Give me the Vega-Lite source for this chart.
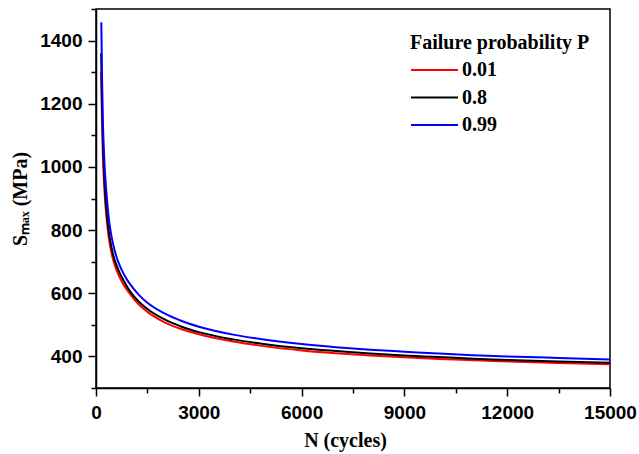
{
  "$schema": "https://vega.github.io/schema/vega-lite/v6.json",
  "width": 514,
  "height": 379,
  "autosize": {"type": "none"},
  "padding": {"left": 96, "top": 9, "right": 29, "bottom": 66},
  "background": "white",
  "config": {
    "view": {"stroke": "black", "strokeWidth": 1.5},
    "axis": {
      "grid": false,
      "domainColor": "black",
      "domainWidth": 1.5,
      "tickColor": "black",
      "tickWidth": 1.5,
      "labelFont": "Liberation Sans",
      "labelFontWeight": "bold",
      "labelFontSize": 19,
      "labelColor": "black",
      "titleFont": "Liberation Serif",
      "titleFontWeight": "bold",
      "titleFontSize": 20,
      "titleColor": "black"
    }
  },
  "data": {
    "values": [
      {"N": 150, "S": 1300, "P": "0.01"},
      {"N": 175, "S": 1150, "P": "0.01"},
      {"N": 200, "S": 1040, "P": "0.01"},
      {"N": 225, "S": 970, "P": "0.01"},
      {"N": 250, "S": 918, "P": "0.01"},
      {"N": 300, "S": 847, "P": "0.01"},
      {"N": 350, "S": 796, "P": "0.01"},
      {"N": 400, "S": 757, "P": "0.01"},
      {"N": 500, "S": 706, "P": "0.01"},
      {"N": 600, "S": 673, "P": "0.01"},
      {"N": 700, "S": 648, "P": "0.01"},
      {"N": 800, "S": 628, "P": "0.01"},
      {"N": 900, "S": 611, "P": "0.01"},
      {"N": 1000, "S": 596, "P": "0.01"},
      {"N": 1250, "S": 564, "P": "0.01"},
      {"N": 1500, "S": 541, "P": "0.01"},
      {"N": 2000, "S": 508, "P": "0.01"},
      {"N": 2500, "S": 486, "P": "0.01"},
      {"N": 3000, "S": 470, "P": "0.01"},
      {"N": 4000, "S": 447, "P": "0.01"},
      {"N": 5000, "S": 431, "P": "0.01"},
      {"N": 6000, "S": 419, "P": "0.01"},
      {"N": 7000, "S": 410, "P": "0.01"},
      {"N": 8000, "S": 403, "P": "0.01"},
      {"N": 9000, "S": 397, "P": "0.01"},
      {"N": 10000, "S": 392, "P": "0.01"},
      {"N": 11000, "S": 388, "P": "0.01"},
      {"N": 12000, "S": 384, "P": "0.01"},
      {"N": 13500, "S": 379, "P": "0.01"},
      {"N": 15000, "S": 375, "P": "0.01"},
      {"N": 150, "S": 1360, "P": "0.8"},
      {"N": 175, "S": 1200, "P": "0.8"},
      {"N": 200, "S": 1085, "P": "0.8"},
      {"N": 225, "S": 1005, "P": "0.8"},
      {"N": 250, "S": 948, "P": "0.8"},
      {"N": 300, "S": 870, "P": "0.8"},
      {"N": 350, "S": 816, "P": "0.8"},
      {"N": 400, "S": 776, "P": "0.8"},
      {"N": 500, "S": 722, "P": "0.8"},
      {"N": 600, "S": 688, "P": "0.8"},
      {"N": 700, "S": 662, "P": "0.8"},
      {"N": 800, "S": 641, "P": "0.8"},
      {"N": 900, "S": 622, "P": "0.8"},
      {"N": 1000, "S": 605, "P": "0.8"},
      {"N": 1250, "S": 573, "P": "0.8"},
      {"N": 1500, "S": 550, "P": "0.8"},
      {"N": 2000, "S": 517, "P": "0.8"},
      {"N": 2500, "S": 494, "P": "0.8"},
      {"N": 3000, "S": 477, "P": "0.8"},
      {"N": 4000, "S": 454, "P": "0.8"},
      {"N": 5000, "S": 438, "P": "0.8"},
      {"N": 6000, "S": 426, "P": "0.8"},
      {"N": 7000, "S": 417, "P": "0.8"},
      {"N": 8000, "S": 409, "P": "0.8"},
      {"N": 9000, "S": 403, "P": "0.8"},
      {"N": 10000, "S": 398, "P": "0.8"},
      {"N": 11000, "S": 393, "P": "0.8"},
      {"N": 12000, "S": 389, "P": "0.8"},
      {"N": 13500, "S": 384, "P": "0.8"},
      {"N": 15000, "S": 380, "P": "0.8"},
      {"N": 155, "S": 1458, "P": "0.99"},
      {"N": 175, "S": 1290, "P": "0.99"},
      {"N": 200, "S": 1150, "P": "0.99"},
      {"N": 225, "S": 1065, "P": "0.99"},
      {"N": 250, "S": 1005, "P": "0.99"},
      {"N": 300, "S": 925, "P": "0.99"},
      {"N": 350, "S": 862, "P": "0.99"},
      {"N": 400, "S": 815, "P": "0.99"},
      {"N": 500, "S": 755, "P": "0.99"},
      {"N": 600, "S": 715, "P": "0.99"},
      {"N": 700, "S": 686, "P": "0.99"},
      {"N": 800, "S": 663, "P": "0.99"},
      {"N": 900, "S": 644, "P": "0.99"},
      {"N": 1000, "S": 628, "P": "0.99"},
      {"N": 1250, "S": 595, "P": "0.99"},
      {"N": 1500, "S": 570, "P": "0.99"},
      {"N": 2000, "S": 536, "P": "0.99"},
      {"N": 2500, "S": 512, "P": "0.99"},
      {"N": 3000, "S": 494, "P": "0.99"},
      {"N": 4000, "S": 469, "P": "0.99"},
      {"N": 5000, "S": 452, "P": "0.99"},
      {"N": 6000, "S": 439, "P": "0.99"},
      {"N": 7000, "S": 429, "P": "0.99"},
      {"N": 8000, "S": 421, "P": "0.99"},
      {"N": 9000, "S": 415, "P": "0.99"},
      {"N": 10000, "S": 409, "P": "0.99"},
      {"N": 11000, "S": 404, "P": "0.99"},
      {"N": 12000, "S": 400, "P": "0.99"},
      {"N": 13500, "S": 395, "P": "0.99"},
      {"N": 15000, "S": 390, "P": "0.99"}
    ]
  },
  "mark": {"type": "line", "strokeWidth": 2, "interpolate": "monotone", "clip": true},
  "encoding": {
    "x": {
      "field": "N",
      "type": "quantitative",
      "scale": {"domain": [0, 15000], "nice": false, "zero": false},
      "axis": {
        "title": "N (cycles)",
        "titleX": 249,
        "titleY": 58,
        "titleBaseline": "alphabetic",
        "values": [0, 1500, 3000, 4500, 6000, 7500, 9000, 10500, 12000, 13500, 15000],
        "format": "d",
        "labelExpr": "datum.value % 3000 === 0 ? datum.label : ''",
        "tickSize": {"condition": {"test": "datum.value % 3000 === 0", "value": 8}, "value": 5},
        "labelPadding": 7,
        "labelFlush": false
      }
    },
    "y": {
      "field": "S",
      "type": "quantitative",
      "scale": {"domain": [300, 1500], "nice": false, "zero": false},
      "axis": {
        "title": "Sₘₐₓ (MPa)",
        "titleX": -76,
        "titleBaseline": "middle",
        "values": [300, 400, 500, 600, 700, 800, 900, 1000, 1100, 1200, 1300, 1400, 1500],
        "format": "d",
        "labelExpr": "datum.value % 200 === 0 ? datum.label : ''",
        "tickSize": {"condition": {"test": "datum.value % 200 === 0", "value": 8}, "value": 5},
        "labelPadding": 6,
        "labelFlush": false
      }
    },
    "color": {
      "field": "P",
      "type": "nominal",
      "scale": {"domain": ["0.01", "0.8", "0.99"], "range": ["#ff0000", "#000000", "#0000ff"]},
      "legend": {
        "title": "Failure probability P",
        "orient": "none",
        "legendX": 314,
        "legendY": 24,
        "titleFont": "Liberation Serif",
        "titleFontWeight": "bold",
        "titleFontSize": 20,
        "titleColor": "black",
        "titlePadding": 6,
        "labelFont": "Liberation Serif",
        "labelFontWeight": "bold",
        "labelFontSize": 20,
        "labelColor": "black",
        "labelOffset": 30,
        "symbolType": "M-1,0H3.7",
        "symbolSize": 400,
        "symbolStrokeWidth": 2,
        "symbolFillColor": "transparent",
        "rowPadding": 6.5
      }
    }
  }
}
